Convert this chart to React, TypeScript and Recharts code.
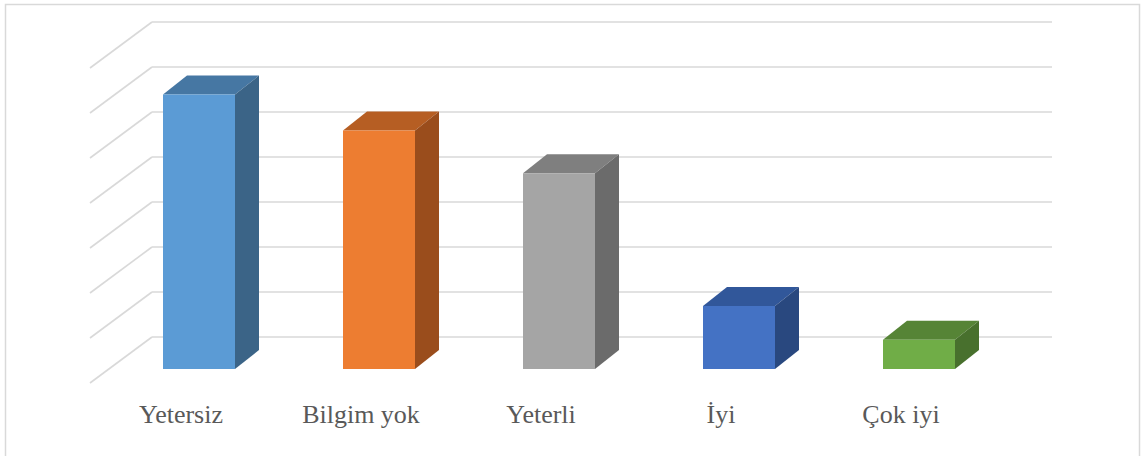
import { BarChart, Bar, XAxis, YAxis, CartesianGrid, Cell } from "recharts";

// values (no axis labels shown, one grid step = 10)
const categories = ["Yetersiz", "Bilgim yok", "Yeterli", "İyi", "Çok iyi"];
const values = [61, 53, 43.5, 14, 6.5];
const yTicks = [0, 10, 20, 30, 40, 50, 60, 70];

const data = categories.map((name, i) => ({ name, value: values[i] }));

// office-style palette: front / top / side shades
const frontColors = ["#5b9bd5", "#ed7d31", "#a5a5a5", "#4472c4", "#70ad47"];
const topColors = ["#4677a3", "#b65e23", "#7f7f7f", "#31579a", "#568436"];
const sideColors = ["#3b6487", "#9a4d1c", "#6b6b6b", "#29487f", "#48702d"];

// bar depth and wall depth offsets (3d look)
const BAR_DX = 24;
const BAR_DY = 19;
const WALL_BACK = { dx: 43, dy: -32 };
const WALL_FRONT = { dx: -19, dy: 14 };

const Box3D = (props: any) => {
  const { x, y, width, height, index } = props;
  if (height <= 0) return null;
  const r = x + width;
  const b = y + height;
  return (
    <g>
      <polygon
        points={`${x},${y} ${x + BAR_DX},${y - BAR_DY} ${r + BAR_DX},${y - BAR_DY} ${r},${y}`}
        fill={topColors[index]}
      />
      <polygon
        points={`${r},${y} ${r + BAR_DX},${y - BAR_DY} ${r + BAR_DX},${b - BAR_DY} ${r},${b}`}
        fill={sideColors[index]}
      />
      <rect x={x} y={y} width={width} height={height} fill={frontColors[index]} />
    </g>
  );
};

const GridLine = (props: any) => {
  const { x1, x2, y1, index } = props;
  const by = y1 + WALL_BACK.dy;
  return (
    <g key={`grid-${index}-${y1}`}>
      <line
        x1={x1 + WALL_FRONT.dx}
        y1={y1 + WALL_FRONT.dy}
        x2={x1 + WALL_BACK.dx}
        y2={by}
        stroke="#d9d9d9"
        strokeWidth={1.6}
      />
      <line
        x1={x1 + WALL_BACK.dx}
        y1={by}
        x2={x2 + WALL_BACK.dx}
        y2={by}
        stroke="#d9d9d9"
        strokeWidth={1.6}
      />
    </g>
  );
};

const CategoryTick = (props: any) => {
  const { x, y, payload } = props;
  return (
    <text
      x={x - 18}
      y={y + 46}
      textAnchor="middle"
      fill="#595959"
      fontSize={26}
      fontFamily="'Liberation Serif', 'Times New Roman', serif"
    >
      {payload.value}
    </text>
  );
};

export default function App() {
  return (
    <div style={{ position: "absolute", left: 0, top: 0, width: 1147, height: 456, background: "#fff" }}>
      <svg
        width={1147}
        height={456}
        style={{ position: "absolute", left: 0, top: 0 }}
      >
        <rect x={5.5} y={4.5} width={1134} height={460} fill="none" stroke="#d9d9d9" strokeWidth={1.5} />
      </svg>
      <div style={{ position: "absolute", left: 0, top: 0 }}>
        <BarChart
          width={1147}
          height={456}
          data={data}
          margin={{ top: 54, right: 138, bottom: 0, left: 109 }}
          barSize={72}
        >
          <CartesianGrid vertical={false} horizontal={GridLine} />
          <XAxis
            dataKey="name"
            height={87}
            axisLine={false}
            tickLine={false}
            tick={<CategoryTick />}
            interval={0}
          />
          <YAxis hide domain={[0, 70]} ticks={yTicks} />
          <Bar dataKey="value" shape={<Box3D />} isAnimationActive={false}>
            {data.map((d, i) => (
              <Cell key={d.name} fill={frontColors[i]} />
            ))}
          </Bar>
        </BarChart>
      </div>
    </div>
  );
}
